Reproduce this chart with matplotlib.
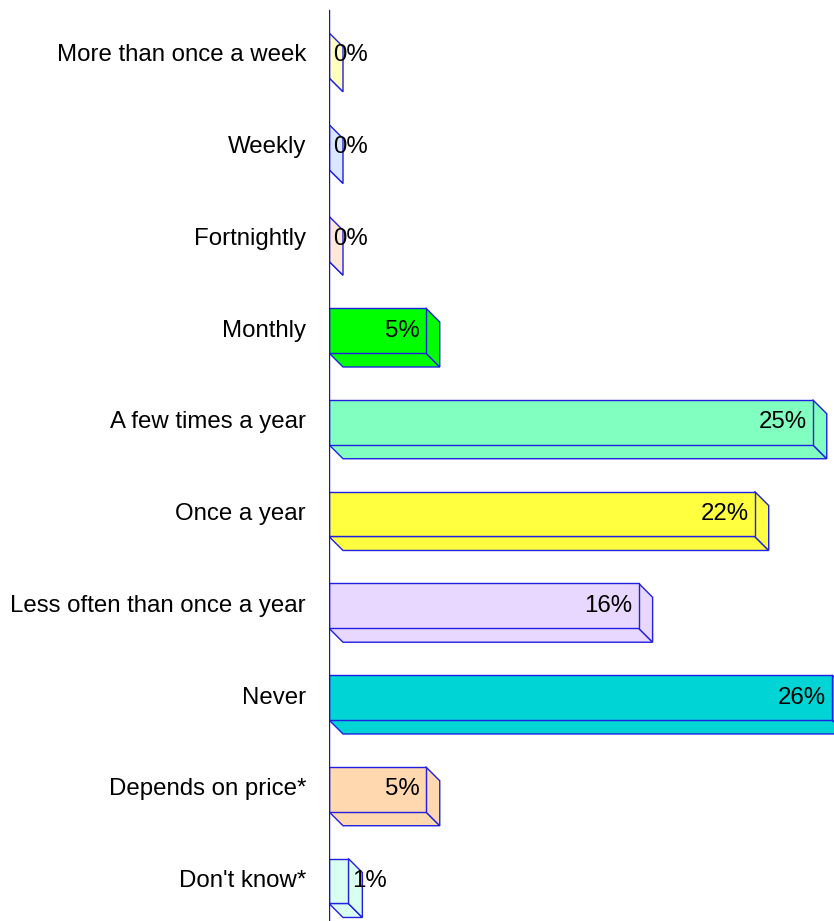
import matplotlib
matplotlib.use("Agg")
import matplotlib.pyplot as plt
from matplotlib.patches import Polygon

plt.rcParams['font.family'] = ['Liberation Sans', 'DejaVu Sans']

categories = ["More than once a week", "Weekly", "Fortnightly", "Monthly",
              "A few times a year", "Once a year", "Less often than once a year",
              "Never", "Depends on price*", "Don't know*"]
values = [0, 0, 0, 5, 25, 22, 16, 26, 5, 1]
value_labels = ["0%", "0%", "0%", "5%", "25%", "22%", "16%", "26%", "5%", "1%"]
colors = ['#FFFFC0', '#D8E8FF', '#FFE8D8', '#00FF00', '#80FFC0', '#FFFF40',
          '#E8D8FF', '#00D4D4', '#FFD8B0', '#D8FFF0']
edge = '#2020E0'

W, H = 834, 921
fig = plt.figure(figsize=(W / 100, H / 100), dpi=100)
ax_left_px = 329
ax = fig.add_axes([ax_left_px / W, 0, 1 - ax_left_px / W, 1])
ax.set_axis_off()

px_per_pct = 19.35
step_px = 91.75
first_center_px = 55.25
xmax = (W - ax_left_px) / px_per_pct
ax.set_xlim(0, xmax)
ax.set_ylim((H - first_center_px) / step_px, -first_center_px / step_px)

bar_h = 0.49
depth_px = 14
dx = depth_px / px_per_pct
dy = depth_px / step_px

ys = list(range(len(categories)))
lw = 1.0
fs = 17.3
for y, v, c in zip(ys, values, colors):
    top = y - bar_h / 2
    bot = y + bar_h / 2
    # bottom face
    ax.add_patch(Polygon([(0, bot), (v, bot), (v + dx, bot + dy), (dx, bot + dy)],
                         closed=True, facecolor=c, edgecolor=edge, lw=lw, zorder=2))
    # right face
    ax.add_patch(Polygon([(v, top), (v + dx, top + dy), (v + dx, bot + dy), (v, bot)],
                         closed=True, facecolor=c, edgecolor=edge, lw=lw, zorder=2))
ax.barh(ys, values, height=bar_h, color=colors, edgecolor=edge, linewidth=lw, zorder=3)

ax.axvline(0, ymin=0, ymax=1 - 10 / H, color='#1010D0', lw=1.0, zorder=5)

for y, v, lab, cat in zip(ys, values, value_labels, categories):
    if v >= 3:
        ax.annotate(lab, (v, y), xytext=(-6, 0), textcoords='offset pixels',
                    ha='right', va='center', fontsize=fs, color='black', zorder=6)
    else:
        ax.annotate(lab, (v, y), xytext=(4, 0), textcoords='offset pixels',
                    ha='left', va='center', fontsize=fs, color='black', zorder=6)
    ax.annotate(cat, (0, y), xytext=(-23, 0), textcoords='offset pixels',
                ha='right', va='center', fontsize=fs, color='black',
                annotation_clip=False)

fig.savefig("out.png", dpi=100)
